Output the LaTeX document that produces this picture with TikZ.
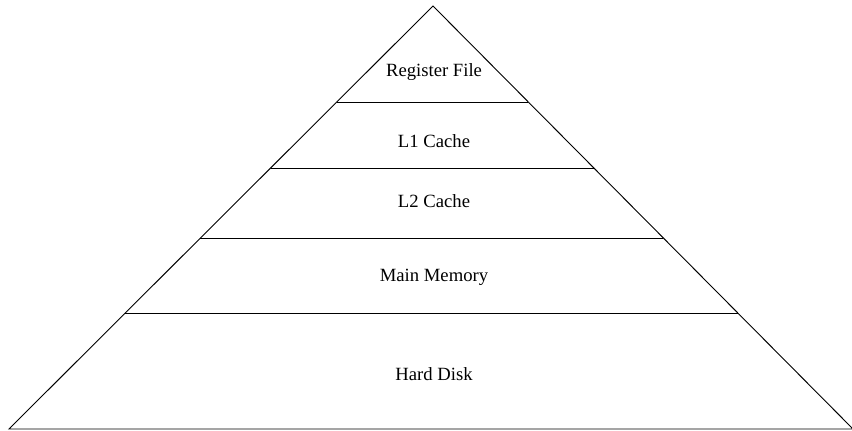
\documentclass[tikz,border=0pt]{standalone}
\usepackage{fontspec}
\setmainfont{Liberation Serif}
\usetikzlibrary{calc}

\tikzset{
  level/.style={font=\fontsize{14}{16}\selectfont, inner sep=0pt},
  edge/.style={line width=0.7pt}
}

\begin{document}
\begin{tikzpicture}[x=0.75pt,y=0.75pt]
  \useasboundingbox (0,0) rectangle (852,431);
  \coordinate (apex) at (433,425);
  \coordinate (bl) at (9,2);
  \coordinate (br) at (853,2);
  \draw[edge] (bl) -- (apex) -- (br) -- cycle;
  % dividing lines between the levels
  \foreach \y in {329,263,193,118} {
    \draw[edge] ($(apex)!{(425-\y)/423}!(bl)$) -- ($(apex)!{(425-\y)/423}!(br)$);
  }
  \node[level] (reg) at (434,359) {Register File};
  \node[level] (lone) at (434,290) {L1 Cache};
  \node[level] (ltwo) at (434,230) {L2 Cache};
  \node[level] (mem) at (434,154) {Main Memory};
  \node[level] (disk) at (434,57) {Hard Disk};
\end{tikzpicture}
\end{document}
